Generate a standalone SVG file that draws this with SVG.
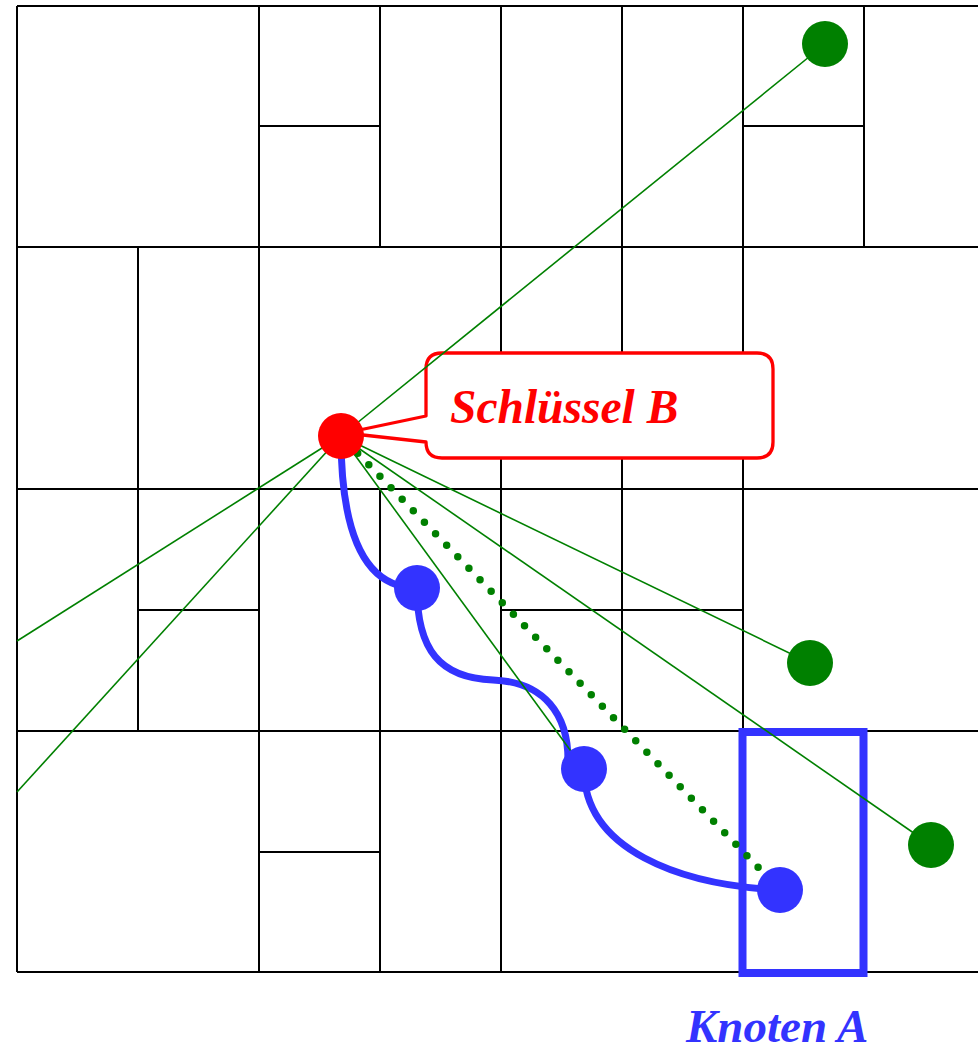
<svg xmlns="http://www.w3.org/2000/svg" width="978" height="1047" viewBox="0 0 978 1047">
  <style>
    .grid line { stroke: #000; stroke-width: 2; }
    .ray { stroke: #008000; stroke-width: 1.6; fill: none; }
    .dots { stroke: #008000; stroke-width: 7.5; stroke-linecap: round; stroke-dasharray: 0 16; stroke-dashoffset: 8; fill: none; }
    .route { stroke: #3333ff; stroke-width: 7; fill: none; stroke-linecap: round; }
    .label { font-family: "Liberation Serif", "Times New Roman", serif; font-weight: bold; font-style: italic; }
  </style>

  <rect width="978" height="1047" fill="#fff"/>

  <!-- cell partition -->
  <g id="grid" class="grid">
    <!-- main horizontals -->
    <line x1="17" y1="6" x2="978" y2="6"/>
    <line x1="17" y1="247" x2="978" y2="247"/>
    <line x1="17" y1="489" x2="978" y2="489"/>
    <line x1="17" y1="731" x2="978" y2="731"/>
    <line x1="17" y1="972" x2="978" y2="972"/>
    <line x1="17" y1="6" x2="17" y2="972"/>
    <!-- row 1 -->
    <line x1="259" y1="6" x2="259" y2="247"/>
    <line x1="380" y1="6" x2="380" y2="247"/>
    <line x1="501" y1="6" x2="501" y2="247"/>
    <line x1="622" y1="6" x2="622" y2="247"/>
    <line x1="743" y1="6" x2="743" y2="247"/>
    <line x1="864" y1="6" x2="864" y2="247"/>
    <line x1="259" y1="126" x2="380" y2="126"/>
    <line x1="743" y1="126" x2="864" y2="126"/>
    <!-- row 2 -->
    <line x1="138" y1="247" x2="138" y2="489"/>
    <line x1="259" y1="247" x2="259" y2="489"/>
    <line x1="501" y1="247" x2="501" y2="489"/>
    <line x1="622" y1="247" x2="622" y2="489"/>
    <line x1="743" y1="247" x2="743" y2="489"/>
    <!-- row 3 -->
    <line x1="138" y1="489" x2="138" y2="731"/>
    <line x1="259" y1="489" x2="259" y2="731"/>
    <line x1="380" y1="489" x2="380" y2="731"/>
    <line x1="501" y1="489" x2="501" y2="731"/>
    <line x1="622" y1="489" x2="622" y2="731"/>
    <line x1="743" y1="489" x2="743" y2="731"/>
    <line x1="138" y1="610" x2="259" y2="610"/>
    <line x1="501" y1="610" x2="743" y2="610"/>
    <!-- row 4 -->
    <line x1="259" y1="731" x2="259" y2="972"/>
    <line x1="380" y1="731" x2="380" y2="972"/>
    <line x1="501" y1="731" x2="501" y2="972"/>
    <line x1="743" y1="731" x2="743" y2="972"/>
    <line x1="259" y1="852" x2="380" y2="852"/>
  </g>

  <!-- responsible cell of node A -->
  <g id="knoten-a-zone">
    <rect x="742.5" y="732" width="121" height="241" fill="none" stroke="#3333ff" stroke-width="8"/>
  </g>

  <!-- callout for key B -->
  <g id="schluessel-b-callout">
    <path d="M442,353 H757 Q773,353 773,369 V442 Q773,458 757,458 H442 Q426,458 426,442 L345,433 L426,416 V369 Q426,353 442,353 Z"
          fill="#fff" stroke="#ff0000" stroke-width="3.3" stroke-linejoin="round"/>
    <text class="label" x="450" y="423" font-size="47.5" fill="#ff0000">Schlüssel B</text>
  </g>

  <!-- routing path and distance rays -->
  <g id="connectors">
    <path class="route" d="M341,436 Q341,588 417,588"/>
    <path class="route" d="M417,588 C417,650 440,678 493,680 C545,682 568,715 568,760"/>
    <path class="route" d="M584,769 C584,850 680,885 780,890"/>
    <line class="ray" x1="341" y1="436" x2="825" y2="44"/>
    <line class="ray" x1="341" y1="436" x2="17" y2="641"/>
    <line class="ray" x1="341" y1="436" x2="17" y2="792"/>
    <line class="ray" x1="341" y1="436" x2="810" y2="663"/>
    <line class="ray" x1="341" y1="436" x2="931" y2="845"/>
    <line class="ray" x1="341" y1="436" x2="584" y2="769"/>
    <line class="dots" x1="341" y1="436" x2="780" y2="890"/>
  </g>

  <!-- peers -->
  <g id="peer-green-1"><circle cx="825" cy="44" r="23" fill="#008000"/></g>
  <g id="peer-green-2"><circle cx="810" cy="663" r="23" fill="#008000"/></g>
  <g id="peer-green-3"><circle cx="931" cy="845" r="23" fill="#008000"/></g>
  <g id="key-b"><circle cx="341" cy="436" r="23" fill="#ff0000"/></g>
  <g id="hop-1"><circle cx="417" cy="588" r="23" fill="#3333ff"/></g>
  <g id="hop-2"><circle cx="584" cy="769" r="23" fill="#3333ff"/></g>
  <g id="knoten-a"><circle cx="780" cy="890" r="23" fill="#3333ff"/></g>

  <g id="knoten-a-label">
    <text class="label" x="686" y="1042" font-size="47" fill="#3333ff">Knoten A</text>
  </g>
</svg>
